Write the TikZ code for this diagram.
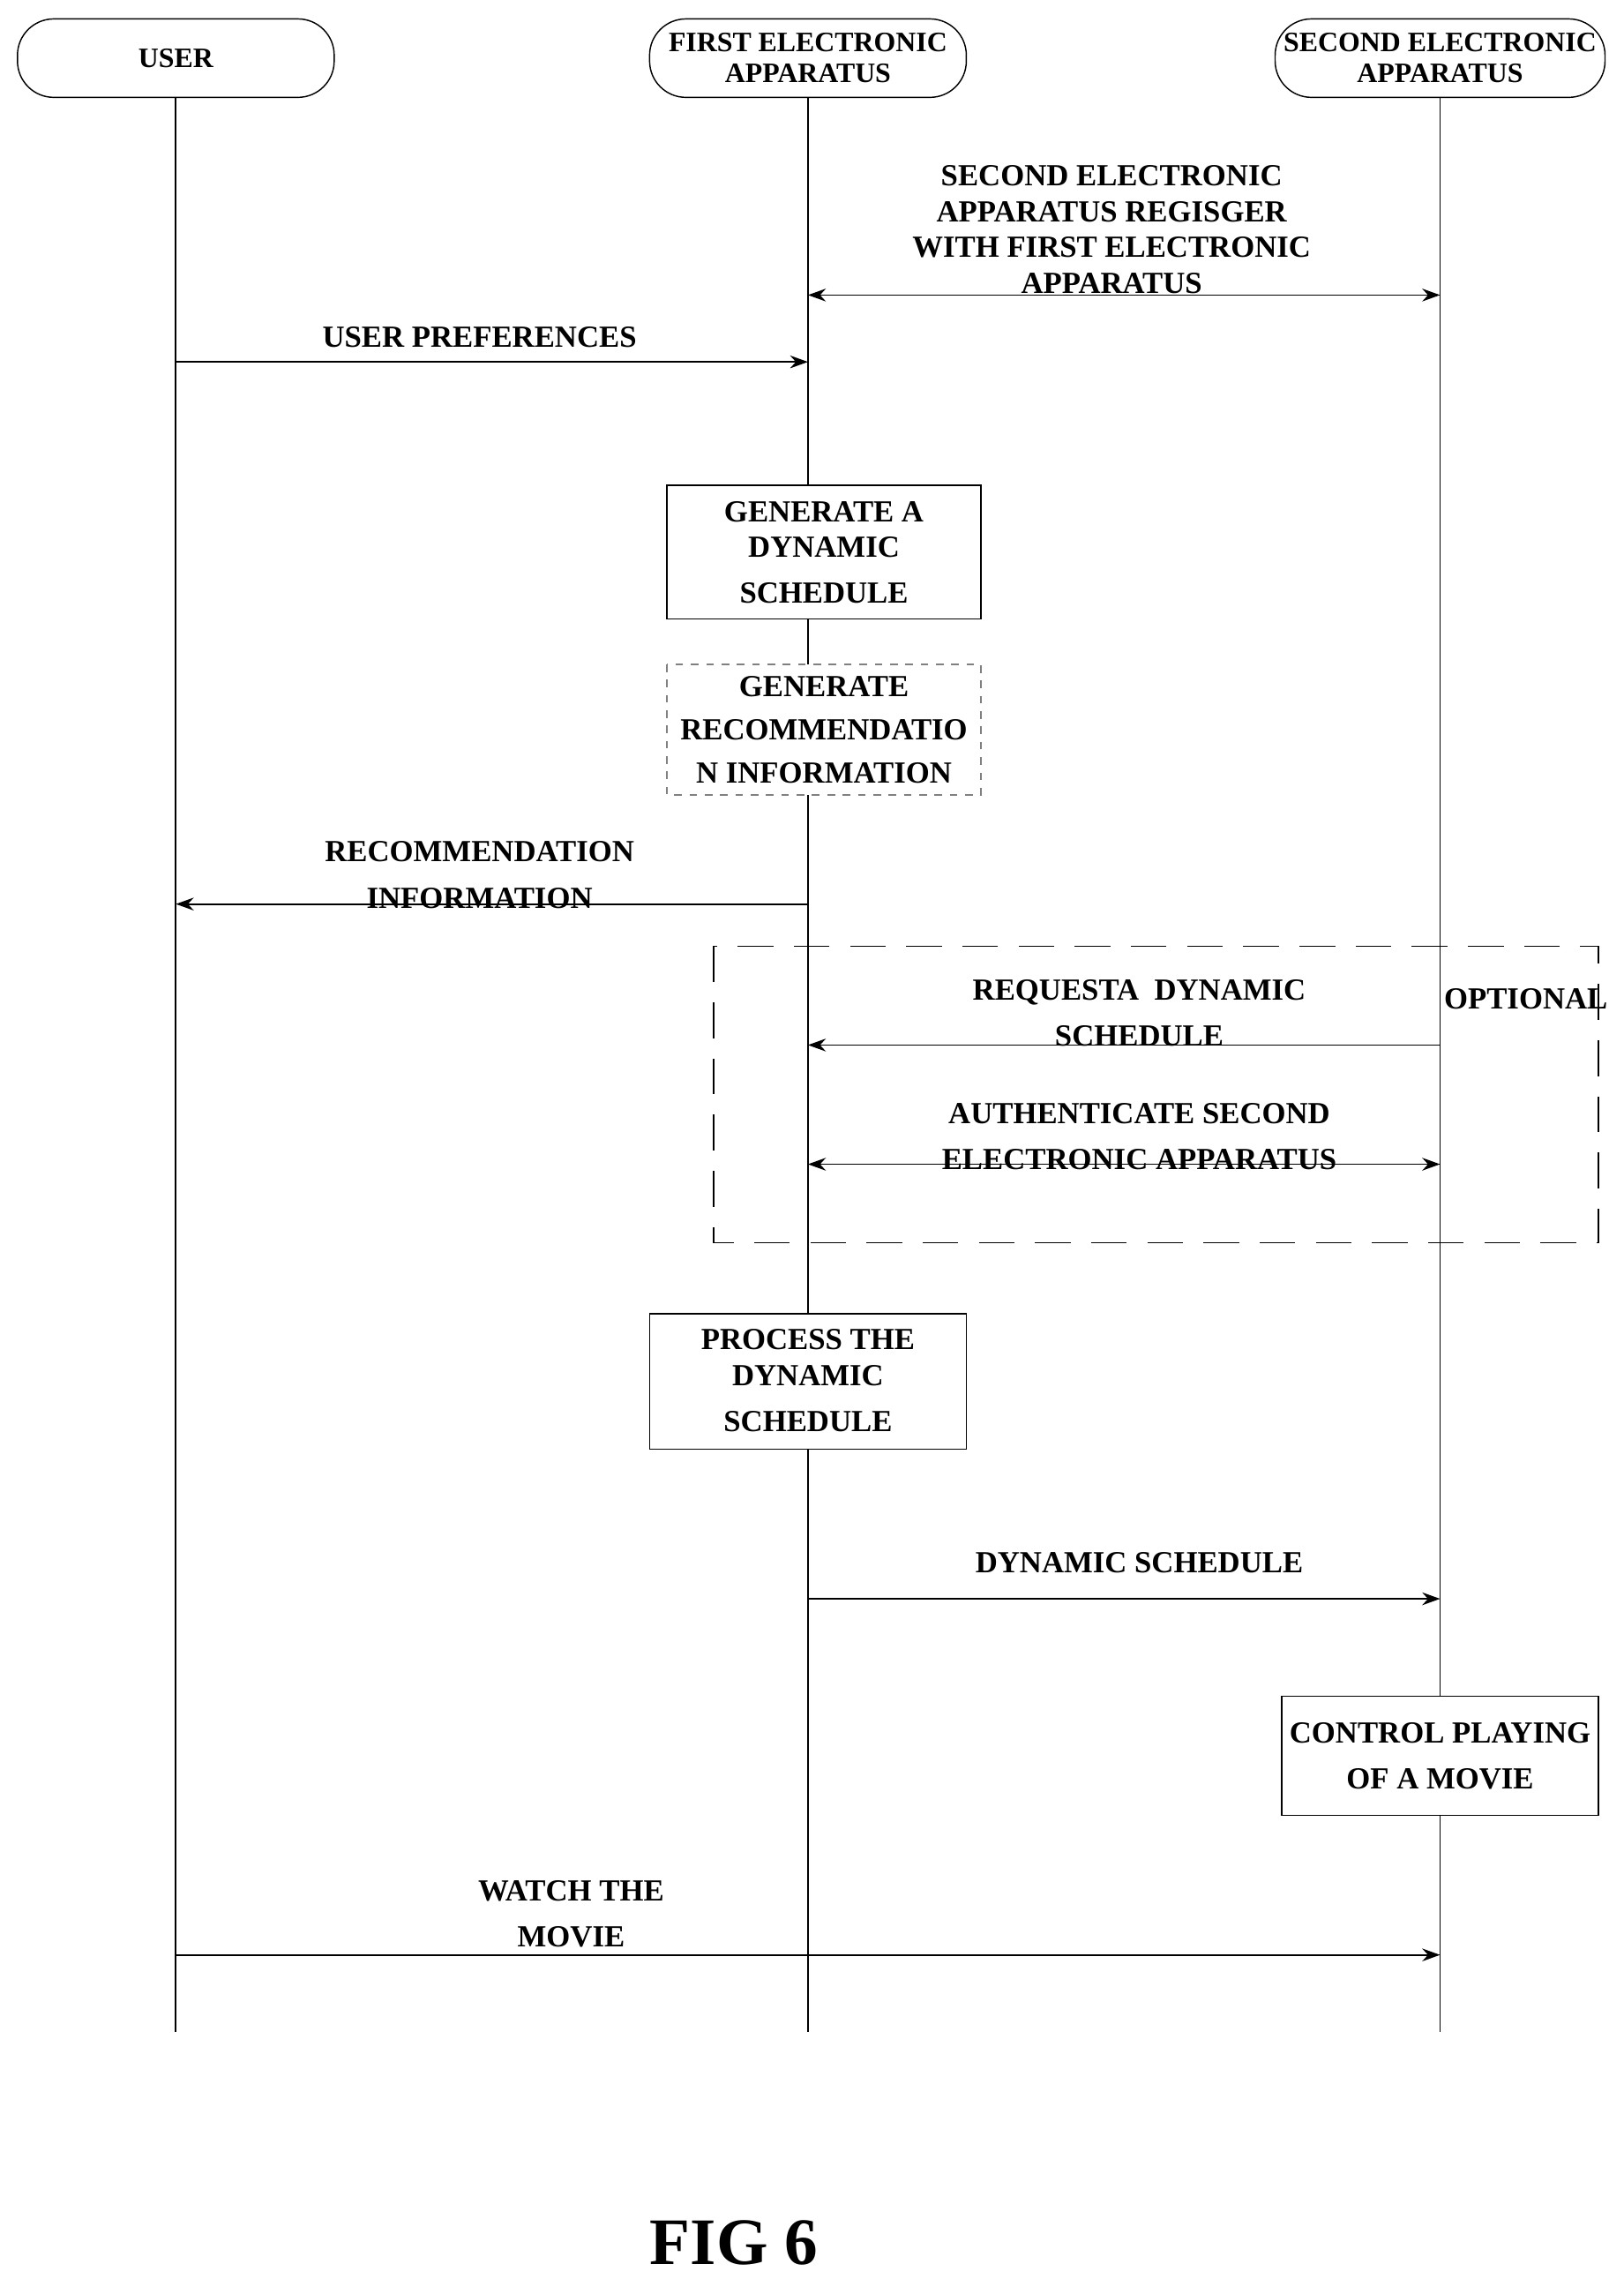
\documentclass[tikz,border=0pt]{standalone}
\usepackage{fontspec}
\setmainfont{Liberation Serif}
\usetikzlibrary{arrows.meta}
\begin{document}
\begin{tikzpicture}[x=0.02cm,y=-0.02cm,
  txt/.style={font=\fontsize{12}{14}\selectfont\bfseries,align=center,inner sep=0},
  hdr/.style={draw,rounded corners=0.5cm,line width=0.5pt,minimum width=4.36cm,minimum height=1.08cm,font=\fontsize{11}{12}\selectfont\bfseries,align=center},
  life/.style={line width=0.6pt},
  msg/.style={line width=0.6pt,-{Stealth[length=7pt,width=5pt]}},
  dmsg/.style={line width=0.6pt,{Stealth[length=7pt,width=5pt]}-{Stealth[length=7pt,width=5pt]}},
  box/.style={draw,line width=0.5pt,fill=white}]
\useasboundingbox (0,0) rectangle (1117,1568);
\node[hdr] (u) at (121,40) {USER};
\node[hdr] (f) at (556,40) {FIRST ELECTRONIC\\APPARATUS};
\node[hdr] (s) at (991,40) {SECOND ELECTRONIC\\APPARATUS};
\coordinate (ue) at (121,1398);
\coordinate (fe) at (556,1398);
\coordinate (se) at (991,1398);
\draw[life] (u.south) -- (ue);
\draw[life] (f.south) -- (fe);
\draw[life] (s.south) -- (se);
% register
\coordinate (r1) at (556,203); \coordinate (r2) at (991,203);
\draw[dmsg] (r1) -- (r2);
\node[txt] (rl) at (765,158) {SECOND ELECTRONIC\\APPARATUS REGISGER\\WITH FIRST ELECTRONIC\\APPARATUS};
% user preferences
\coordinate (p1) at (121,249); \coordinate (p2) at (556,249);
\draw[msg] (p1) -- (p2);
\node[txt] (pl) at (330,232) {USER PREFERENCES};
% generate schedule
\draw[box] (459,334) rectangle (675,426);
\node[txt] (g1) at (567,380) {GENERATE A\\DYNAMIC\\[4pt]SCHEDULE};
\draw[box,dashed,draw=gray] (459,457) rectangle (675,547);
\node[txt] (g2) at (567,502) {GENERATE\\[3pt]RECOMMENDATIO\\[3pt]N INFORMATION};
% recommendation
\coordinate (c1) at (556,622); \coordinate (c2) at (121,622);
\draw[msg] (c1) -- (c2);
\node[txt] (cl) at (330,602) {RECOMMENDATION\\[4pt]INFORMATION};
% optional
\draw[line width=0.6pt,dash pattern=on 14pt off 8pt] (491,651) rectangle (1100,855);
\node[txt] (opt) at (1050,687) {OPTIONAL};
\coordinate (q1) at (991,719); \coordinate (q2) at (556,719);
\draw[msg] (q1) -- (q2);
\node[txt] (ql) at (784,697) {REQUESTA\ \ DYNAMIC\\[4pt]SCHEDULE};
\coordinate (a1) at (556,801); \coordinate (a2) at (991,801);
\draw[dmsg] (a1) -- (a2);
\node[txt] (al) at (784,782) {AUTHENTICATE SECOND\\[4pt]ELECTRONIC APPARATUS};
% process
\draw[box] (447,904) rectangle (665,997);
\node[txt] (pr) at (556,950) {PROCESS THE\\DYNAMIC\\[4pt]SCHEDULE};
% dynamic schedule
\coordinate (d1) at (556,1100); \coordinate (d2) at (991,1100);
\draw[msg] (d1) -- (d2);
\node[txt] (dl) at (784,1075) {DYNAMIC SCHEDULE};
% control
\draw[box] (882,1167) rectangle (1100,1249);
\node[txt] (cp) at (991,1208) {CONTROL PLAYING\\[4pt]OF A MOVIE};
% watch
\coordinate (w1) at (121,1345); \coordinate (w2) at (991,1345);
\draw[msg] (w1) -- (w2);
\node[txt] (wl) at (393,1317) {WATCH THE\\[4pt]MOVIE};
\node[font=\fontsize{26}{30}\selectfont\bfseries,inner sep=0] (fig) at (505,1543) {FIG 6};
\end{tikzpicture}
\end{document}
